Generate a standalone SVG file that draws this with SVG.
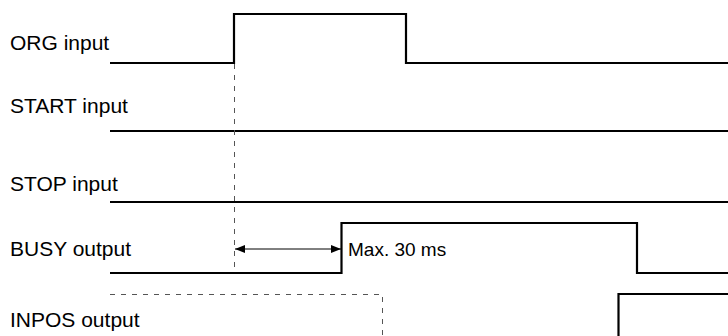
<svg xmlns="http://www.w3.org/2000/svg" width="728" height="336" viewBox="0 0 728 336">
<style>
.lbl{font-family:"Liberation Sans",Arial,Helvetica,sans-serif;font-size:21px;fill:#000}
.note{font-family:"Liberation Sans",Arial,Helvetica,sans-serif;font-size:19px;fill:#000}
.sig{fill:none;stroke:#000;stroke-width:2.2;stroke-linejoin:miter;stroke-linecap:butt}
.dash{fill:none;stroke:#555;stroke-width:1;stroke-dasharray:5 6}
.dim{fill:none;stroke:#000;stroke-width:1}
</style>
<defs>
<marker id="ah" viewBox="0 0 10 8" refX="10" refY="4" markerWidth="10" markerHeight="8" markerUnits="userSpaceOnUse" orient="auto-start-reverse">
<path d="M0,0 L10,4 L0,8 Z" fill="#000"/>
</marker>
</defs>
<rect width="728" height="336" fill="#fff"/>
<g id="org">
<text class="lbl" x="10" y="50">ORG input</text>
<path class="sig" d="M110,63 H234 V14 H406 V63 H728"/>
</g>
<g id="start">
<text class="lbl" x="10" y="113">START input</text>
<path class="sig" d="M110,131 H728"/>
</g>
<g id="stop">
<text class="lbl" x="10" y="191">STOP input</text>
<path class="sig" d="M110,202 H728"/>
</g>
<g id="busy">
<text class="lbl" x="10" y="256">BUSY output</text>
<path class="sig" d="M110,273 H341.5 V223 H637 V273 H728"/>
</g>
<g id="inpos">
<text class="lbl" x="10" y="327">INPOS output</text>
<path class="sig" d="M728,294 H618.5 V336"/>
</g>
<g id="connectors">
<path class="dash" d="M234.5,64 V273"/>
<path class="dash" d="M110,294.5 H382.5 V336"/>
<path class="dim" d="M235,249 H341" marker-start="url(#ah)" marker-end="url(#ah)"/>
<text class="note" x="348" y="256">Max. 30 ms</text>
</g>
</svg>
